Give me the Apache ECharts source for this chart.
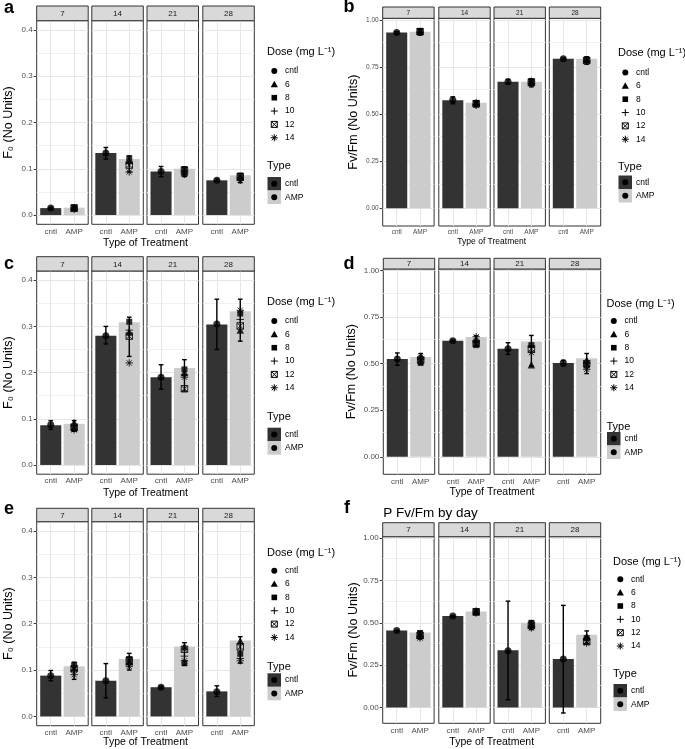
<!DOCTYPE html>
<html>
<head>
<meta charset="utf-8">
<script src="https://cdn.jsdelivr.net/npm/echarts@6/dist/echarts.min.js"></script>
<style>
  html, body { margin: 0; padding: 0; background: #fff; }
  #chart { width: 685px; height: 749px; }
</style>
</head>
<body>
<div id="chart"></div>
<script>
const days = ['7', '14', '21', '28'];
const types = ['cntl', 'AMP'];
const doses = ['cntl', '6', '8', '10', '12', '14'];
const f0Ticks = [0, 0.1, 0.2, 0.3, 0.4];
const f0Minor = [0.05, 0.15, 0.25, 0.35];
const fvTicks = [0, 0.25, 0.5, 0.75, 1];
const fvMinor = [0.125, 0.375, 0.625, 0.875];

// panel a (F0)
const aCntlMean = [0.015, 0.134, 0.094, 0.075];
const aCntlLow = [0.013, 0.121, 0.083, 0.073];
const aCntlHigh = [0.017, 0.146, 0.105, 0.078];
const aAmpMean = [0.016, 0.121, 0.100, 0.086];
const aAmpLow = [0.011, 0.093, 0.083, 0.070];
const aAmpHigh = [0.019, 0.128, 0.104, 0.090];
const aCntlPoints = [0.015, 0.134, 0.094, 0.075];
// rows = days, columns = doses 6, 8, 10, 12, 14
const aAmpPoints = [
  [0.016, 0.017, 0.015, 0.015, 0.012],
  [0.118, 0.122, 0.112, 0.108, 0.093],
  [0.092, 0.099, 0.095, 0.097, 0.088],
  [0.082, 0.085, 0.080, 0.083, 0.075]
];

// panel b (Fv/Fm)
const bCntlMean = [0.933, 0.574, 0.672, 0.794];
const bCntlLow = [0.928, 0.555, 0.660, 0.790];
const bCntlHigh = [0.938, 0.592, 0.685, 0.798];
const bAmpMean = [0.938, 0.560, 0.672, 0.794];
const bAmpLow = [0.920, 0.540, 0.645, 0.765];
const bAmpHigh = [0.952, 0.572, 0.688, 0.805];
const bCntlPoints = [0.933, 0.575, 0.672, 0.794];
const bAmpPoints = [
  [0.940, 0.942, 0.935, 0.938, 0.936],
  [0.563, 0.558, 0.550, 0.555, 0.548],
  [0.668, 0.672, 0.662, 0.670, 0.675],
  [0.790, 0.788, 0.780, 0.785, 0.782]
];

// panel c (F0)
const cCntlMean = [0.086, 0.280, 0.190, 0.304];
const cCntlLow = [0.077, 0.262, 0.164, 0.250];
const cCntlHigh = [0.096, 0.300, 0.217, 0.359];
const cAmpMean = [0.089, 0.309, 0.210, 0.333];
const cAmpLow = [0.073, 0.235, 0.160, 0.268];
const cAmpHigh = [0.096, 0.320, 0.228, 0.359];
const cCntlPoints = [0.087, 0.280, 0.190, 0.305];
const cAmpPoints = [
  [0.092, 0.078, 0.085, 0.082, 0.076],
  [0.288, 0.310, 0.292, 0.279, 0.221],
  [0.200, 0.207, 0.195, 0.165, 0.190],
  [0.292, 0.328, 0.315, 0.301, 0.335]
];

// panel d (Fv/Fm)
const dCntlMean = [0.526, 0.623, 0.581, 0.504];
const dCntlLow = [0.492, 0.620, 0.550, 0.488];
const dCntlHigh = [0.558, 0.627, 0.613, 0.518];
const dAmpMean = [0.536, 0.644, 0.620, 0.530];
const dAmpLow = [0.495, 0.595, 0.488, 0.447];
const dAmpHigh = [0.555, 0.650, 0.652, 0.555];
const dCntlPoints = [0.526, 0.623, 0.580, 0.505];
const dAmpPoints = [
  [0.540, 0.505, 0.530, 0.520, 0.535],
  [0.630, 0.600, 0.620, 0.610, 0.645],
  [0.495, 0.600, 0.590, 0.580, 0.560],
  [0.520, 0.490, 0.505, 0.500, 0.470]
];

// panel e (F0)
const eCntlMean = [0.088, 0.077, 0.063, 0.054];
const eCntlLow = [0.077, 0.040, 0.061, 0.043];
const eCntlHigh = [0.099, 0.114, 0.065, 0.066];
const eAmpMean = [0.108, 0.124, 0.151, 0.164];
const eAmpLow = [0.080, 0.100, 0.110, 0.115];
const eAmpHigh = [0.117, 0.136, 0.159, 0.172];
const eCntlPoints = [0.088, 0.077, 0.063, 0.053];
const eAmpPoints = [
  [0.105, 0.111, 0.100, 0.103, 0.090],
  [0.118, 0.124, 0.112, 0.121, 0.108],
  [0.151, 0.115, 0.130, 0.145, 0.120],
  [0.163, 0.135, 0.125, 0.150, 0.120]
];

// panel f (Fv/Fm)
const fCntlMean = [0.454, 0.540, 0.338, 0.286];
const fCntlLow = [0.452, 0.537, 0.045, -0.033];
const fCntlHigh = [0.456, 0.543, 0.628, 0.603];
const fAmpMean = [0.442, 0.567, 0.500, 0.430];
const fAmpLow = [0.405, 0.552, 0.460, 0.375];
const fAmpHigh = [0.450, 0.582, 0.512, 0.452];
const fCntlPoints = [0.454, 0.540, 0.335, 0.286];
const fAmpPoints = [
  [0.430, 0.440, 0.420, 0.425, 0.410],
  [0.565, 0.562, 0.558, 0.565, 0.570],
  [0.490, 0.500, 0.480, 0.485, 0.470],
  [0.420, 0.410, 0.400, 0.390, 0.380]
];

const FONT = '"Liberation Sans", Arial, Helvetica, sans-serif';
const barColors = { cntl: '#333333', AMP: '#CCCCCC' };

const f0Axis = { yMin: -0.02, yMax: 0.42, ticks: f0Ticks, minor: f0Minor, dec: 1, yTitle: 'F\u2080 (No Units)' };
const fvAxis = { yMin: -0.094, yMax: 1.009, ticks: fvTicks, minor: fvMinor, dec: 2, yTitle: 'Fv/Fm (No Units)' };
const leftCols = [36.7, 91.8, 147, 202.8];
const rightCols = [382.7, 438.8, 494, 549.3];

const panels = [
  { id: 'a', axis: f0Axis, mean: [aCntlMean, aAmpMean], low: [aCntlLow, aAmpLow], high: [aCntlHigh, aAmpHigh],
    cntlPts: aCntlPoints, ampPts: aAmpPoints,
    lefts: leftCols, w: 51.5, stripTop: 6, top: 20.7, bottom: 224.3, small: false,
    yTitleX: 8.3, letter: [9, 8], xTitleY: 243, lg: [267.5, 52, 71, 166, 177] },
  { id: 'b', axis: fvAxis, mean: [bCntlMean, bAmpMean], low: [bCntlLow, bAmpLow], high: [bCntlHigh, bAmpHigh],
    cntlPts: bCntlPoints, ampPts: bAmpPoints,
    lefts: rightCols, w: 51.4, stripTop: 7, top: 18.3, bottom: 226, small: true,
    yTitleX: 353.3, letter: [349, 7], xTitleY: 241.5, lg: [618.5, 53, 72.5, 166.5, 175.5] },
  { id: 'c', axis: f0Axis, mean: [cCntlMean, cAmpMean], low: [cCntlLow, cAmpLow], high: [cCntlHigh, cAmpHigh],
    cntlPts: cCntlPoints, ampPts: cAmpPoints,
    lefts: leftCols, w: 51.5, stripTop: 256.7, top: 271, bottom: 474.2, small: false,
    yTitleX: 8.3, letter: [9, 264], xTitleY: 493, lg: [267.5, 302.3, 321, 416.7, 427.7] },
  { id: 'd', axis: fvAxis, mean: [dCntlMean, dAmpMean], low: [dCntlLow, dAmpLow], high: [dCntlHigh, dAmpHigh],
    cntlPts: dCntlPoints, ampPts: dAmpPoints,
    lefts: [383.3, 438.8, 494, 549.3], w: 51.4, stripTop: 258.3, top: 269, bottom: 474.3, small: false,
    yTitleX: 351.7, letter: [349, 264], xTitleY: 492.3, lg: [607, 304, 321, 426.7, 432] },
  { id: 'e', axis: f0Axis, mean: [eCntlMean, eAmpMean], low: [eCntlLow, eAmpLow], high: [eCntlHigh, eAmpHigh],
    cntlPts: eCntlPoints, ampPts: eAmpPoints,
    lefts: leftCols, w: 51.5, stripTop: 508.3, top: 521.7, bottom: 725.7, small: false,
    yTitleX: 8.3, letter: [9, 509], xTitleY: 742.3, lg: [267.5, 552.7, 570.7, 666.7, 673.3] },
  { id: 'f', axis: fvAxis, mean: [fCntlMean, fAmpMean], low: [fCntlLow, fAmpLow], high: [fCntlHigh, fAmpHigh],
    cntlPts: fCntlPoints, ampPts: fAmpPoints,
    lefts: rightCols, w: 51.4, stripTop: 522.7, top: 536.7, bottom: 723.3, small: false,
    yTitleX: 353.3, letter: [347, 508], xTitleY: 742.3, lg: [613.5, 562.3, 579.3, 674, 684],
    title: 'P Fv/Fm by day', titlePos: [383.3, 513.3] }
];

const symbols = {
  'cntl': { symbol: 'circle', size: 7, fill: true },
  '6': { symbol: 'triangle', size: 7.5, fill: true },
  '8': { symbol: 'rect', size: 6, fill: true },
  '10': { symbol: 'path://M0,5L10,5M5,0L5,10', size: 7.5, fill: false },
  '12': { symbol: 'path://M0,0L10,0L10,10L0,10ZM0,0L10,10M10,0L0,10', size: 6.5, fill: false },
  '14': { symbol: 'path://M5,0L5,10M0,5L10,5M1.5,1.5L8.5,8.5M8.5,1.5L1.5,8.5', size: 7.5, fill: false }
};

function txt(x, y, text, size, opts) {
  opts = opts || {};
  return {
    type: 'text', x: x, y: y, rotation: opts.rotation || 0, z: 10,
    style: {
      text: text, fill: opts.color || '#000', fontSize: size, fontFamily: FONT,
      fontWeight: opts.weight || 'normal', align: opts.align || 'left', verticalAlign: 'middle'
    }
  };
}

function legendSymbol(dose, cx, cy) {
  const st = { stroke: '#000', lineWidth: 1 };
  const ln = (x1, y1, x2, y2) => ({ type: 'line', shape: { x1: cx + x1, y1: cy + y1, x2: cx + x2, y2: cy + y2 }, style: st, z: 10 });
  if (dose === 'cntl') return [{ type: 'circle', shape: { cx: cx, cy: cy, r: 3 }, style: { fill: '#000' }, z: 10 }];
  if (dose === '6') return [{ type: 'polygon', shape: { points: [[cx, cy - 3.6], [cx + 3.6, cy + 2.8], [cx - 3.6, cy + 2.8]] }, style: { fill: '#000' }, z: 10 }];
  if (dose === '8') return [{ type: 'rect', shape: { x: cx - 2.8, y: cy - 2.8, width: 5.6, height: 5.6 }, style: { fill: '#000' }, z: 10 }];
  if (dose === '10') return [ln(-3.5, 0, 3.5, 0), ln(0, -3.5, 0, 3.5)];
  if (dose === '12') return [
    { type: 'rect', shape: { x: cx - 3, y: cy - 3, width: 6, height: 6 }, style: { fill: 'none', stroke: '#000', lineWidth: 1 }, z: 10 },
    ln(-3, -3, 3, 3), ln(3, -3, -3, 3)];
  return [ln(-3.5, 0, 3.5, 0), ln(0, -3.5, 0, 3.5), ln(-2.5, -2.5, 2.5, 2.5), ln(2.5, -2.5, -2.5, 2.5)];
}

const grids = [], xAxes = [], yAxes = [], series = [], graphics = [];

panels.forEach(P => {
  const A = P.axis;
  const tickSize = P.small ? 6.5 : 8;
  for (let d = 0; d < days.length; d++) {
    const gi = grids.length;
    const left = P.lefts[d];
    grids.push({
      left: left, top: P.top, width: P.w, height: P.bottom - P.top,
      show: true, borderColor: '#333333', borderWidth: 1, backgroundColor: '#ffffff',
      containLabel: false, outerBoundsMode: 'none'
    });
    xAxes.push({
      gridIndex: gi, type: 'value', min: 0.4, max: 2.6, interval: 0.2,
      axisLine: { show: false }, splitLine: { show: false },
      axisTick: { show: true, customValues: [1, 2], length: 2.5, lineStyle: { color: '#333333', width: 1 } },
      axisLabel: {
        customValues: [1, 2], fontSize: tickSize, color: '#4D4D4D', fontFamily: FONT, margin: 3,
        formatter: v => Math.abs(v - 1) < 1e-6 ? types[0] : (Math.abs(v - 2) < 1e-6 ? types[1] : '')
      }
    });
    yAxes.push({
      gridIndex: gi, type: 'value', min: A.yMin, max: A.yMax,
      axisLine: { show: false }, splitLine: { show: false },
      axisTick: { show: d === 0, customValues: A.ticks, length: 3, lineStyle: { color: '#333333', width: 1 } },
      axisLabel: {
        show: d === 0, customValues: A.ticks, fontSize: tickSize, color: '#4D4D4D', fontFamily: FONT, margin: 4,
        formatter: v => v.toFixed(A.dec)
      }
    });

    const gridLines = []
      .concat(A.ticks.map(v => ({ yAxis: v, lineStyle: { color: '#E6E6E6', width: 1, type: 'solid' } })))
      .concat(A.minor.map(v => ({ yAxis: v, lineStyle: { color: '#F1F1F1', width: 1, type: 'solid' } })))
      .concat([1, 2].map(v => ({ xAxis: v, lineStyle: { color: '#E6E6E6', width: 1, type: 'solid' } })));

    // bars
    series.push({
      type: 'custom', xAxisIndex: gi, yAxisIndex: gi, z: 2, silent: true,
      data: types.map((t, k) => [k + 1, P.mean[k][d]]),
      renderItem: (params, api) => {
        const x = api.value(0), v = api.value(1);
        const tl = api.coord([x - 0.45, v]);
        const br = api.coord([x + 0.45, 0]);
        return {
          type: 'rect',
          shape: { x: tl[0], y: tl[1], width: br[0] - tl[0], height: br[1] - tl[1] },
          style: { fill: barColors[types[x - 1]] }
        };
      },
      markLine: {
        z: 1, silent: true, animation: false, symbol: ['none', 'none'],
        label: { show: false }, emphasis: { disabled: true }, data: gridLines
      }
    });
    // error bars
    series.push({
      type: 'custom', xAxisIndex: gi, yAxisIndex: gi, z: 3, silent: true,
      data: types.map((t, k) => [k + 1, P.low[k][d], P.high[k][d]]),
      renderItem: (params, api) => {
        const x = api.value(0);
        const lo = api.coord([x, api.value(1)]);
        const hi = api.coord([x, api.value(2)]);
        const l = api.coord([x - 0.1, 0])[0], r = api.coord([x + 0.1, 0])[0];
        const st = { stroke: '#000', lineWidth: 1.4 };
        return {
          type: 'group', children: [
            { type: 'line', shape: { x1: lo[0], y1: lo[1], x2: hi[0], y2: hi[1] }, style: st },
            { type: 'line', shape: { x1: l, y1: lo[1], x2: r, y2: lo[1] }, style: st },
            { type: 'line', shape: { x1: l, y1: hi[1], x2: r, y2: hi[1] }, style: st }
          ]
        };
      }
    });
    // points per dose
    doses.forEach((dose, k) => {
      const s = symbols[dose];
      const data = k === 0 ? [[1, P.cntlPts[d]]] : [[2, P.ampPts[d][k - 1]]];
      series.push({
        type: 'scatter', name: dose, xAxisIndex: gi, yAxisIndex: gi, z: 4, silent: true,
        symbol: s.symbol, symbolSize: s.size, data: data,
        itemStyle: s.fill ? { color: '#000' } : { color: 'rgba(0,0,0,0)', borderColor: '#000', borderWidth: 1 }
      });
    });

    // facet strip
    graphics.push({
      type: 'rect', z: 5,
      shape: { x: left, y: P.stripTop, width: P.w, height: P.top - P.stripTop },
      style: { fill: '#D9D9D9', stroke: '#333333', lineWidth: 1 }
    });
    graphics.push(txt(left + P.w / 2, (P.stripTop + P.top) / 2 + 0.5, days[d], P.small ? 6.5 : 8, { align: 'center', color: '#1A1A1A' }));
  }

  // titles
  const x0 = P.lefts[0], x1 = P.lefts[3] + P.w;
  graphics.push(txt((x0 + x1) / 2, P.xTitleY, 'Type of Treatment', P.small ? 8.5 : 10.5, { align: 'center' }));
  graphics.push(txt(P.yTitleX, (P.top + P.bottom) / 2, A.yTitle, 12.5, { align: 'center', rotation: Math.PI / 2 }));
  graphics.push(txt(P.letter[0], P.letter[1], P.id, 18, { align: 'center', weight: 'bold' }));
  if (P.title) graphics.push(txt(P.titlePos[0], P.titlePos[1], P.title, 13.5, {}));

  // legends
  const [lx, doseY, item0, typeY, keyTop] = P.lg;
  const key = 13.5;
  graphics.push(txt(lx - 0.5, doseY, 'Dose (mg L\u207B\u00B9)', 11, {}));
  doses.forEach((dose, k) => {
    const cy = item0 + k * 13.35;
    legendSymbol(dose, lx + 6.8, cy).forEach(g => graphics.push(g));
    graphics.push(txt(lx + 17.5, cy, dose, 8.5, {}));
  });
  graphics.push(txt(lx - 0.5, typeY, 'Type', 11, {}));
  types.forEach((t, k) => {
    const ky = keyTop + k * key;
    graphics.push({ type: 'rect', z: 10, shape: { x: lx, y: ky, width: key, height: key }, style: { fill: barColors[t] } });
    graphics.push({ type: 'circle', z: 11, shape: { cx: lx + key / 2, cy: ky + key / 2, r: 3 }, style: { fill: '#000' } });
    graphics.push(txt(lx + 17.5, ky + key / 2, t, 8.5, {}));
  });
});

const chart = echarts.init(document.getElementById('chart'), null, { renderer: 'canvas' });
chart.setOption({
  animation: false,
  backgroundColor: '#ffffff',
  textStyle: { fontFamily: FONT },
  grid: grids,
  xAxis: xAxes,
  yAxis: yAxes,
  series: series,
  graphic: { elements: graphics }
});
</script>
</body>
</html>
